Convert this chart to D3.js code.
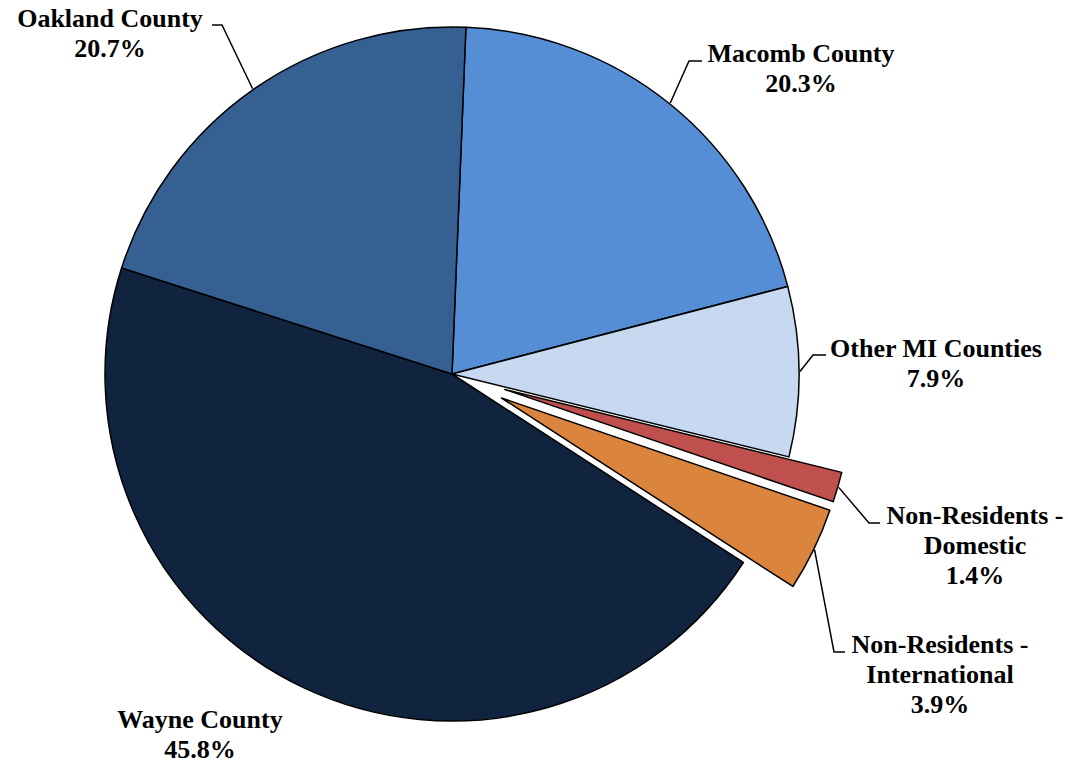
<!DOCTYPE html>
<html>
<head>
<meta charset="utf-8">
<script src="https://cdn.jsdelivr.net/npm/d3@7"></script>
<style>
  html, body { margin: 0; padding: 0; background: #fff; }
  svg { display: block; }
  text { font-family: "Liberation Serif", "Times New Roman", serif; font-weight: bold; font-size: 26px; fill: #000; }
</style>
</head>
<body>
<svg id="chart" width="1068" height="763"></svg>
<script>
// ---- data ----
const categories = ["Macomb County", "Other MI Counties", "Non-Residents - Domestic", "Non-Residents - International", "Wayne County", "Oakland County"];
const values = [20.3, 7.9, 1.4, 3.9, 45.8, 20.7];
const labelLines = [["Macomb County"], ["Other MI Counties"], ["Non-Residents -", "Domestic"], ["Non-Residents -", "International"], ["Wayne County"], ["Oakland County"]];
const exploded = [false, false, true, true, false, false];

// ---- styles / layout ----
const colors = ["#558ED5", "#C6D9F1", "#C0504D", "#DB843D", "#10243F", "#376092"];
const cx = 452, cy = 374, radius = 347, explodeDist = 55;
const startDeg = 2.3;
const lineH = 30;
const labelLayout = [
  { x: 801, y: 62,  leader: [[702, 61], [689, 61]] },
  { x: 936, y: 357, leader: [[826, 355], [813, 355]] },
  { x: 975, y: 524, leader: [[880, 523], [869, 523]] },
  { x: 940, y: 653, leader: [[845, 652], [834, 652]] },
  { x: 200, y: 728, leader: null },
  { x: 110, y: 27,  leader: [[212, 25], [222, 25]] }
];

const svg = d3.select("#chart");
const rad = d => d * Math.PI / 180;

const data = categories.map((c, i) => ({ cat: c, value: values[i], i }));
const pie = d3.pie().sort(null).value(d => d.value)
  .startAngle(rad(startDeg)).endAngle(rad(startDeg) + 2 * Math.PI);
const arcs = pie(data);
const arcGen = d3.arc().innerRadius(0).outerRadius(radius);

function offset(a) {
  if (!exploded[a.data.i]) return [0, 0];
  const m = (a.startAngle + a.endAngle) / 2;
  return [Math.sin(m) * explodeDist, -Math.cos(m) * explodeDist];
}

const g = svg.append("g").attr("transform", `translate(${cx},${cy})`);

// non-exploded first, exploded on top
const order = arcs.slice().sort((a, b) => exploded[a.data.i] - exploded[b.data.i]);
g.selectAll("path.slice").data(order).join("path")
  .attr("class", "slice")
  .attr("d", arcGen)
  .attr("transform", d => { const o = offset(d); return `translate(${o[0]},${o[1]})`; })
  .attr("fill", d => colors[d.data.i])
  .attr("stroke", "#000")
  .attr("stroke-width", 1.5)
  .attr("stroke-linejoin", "round");

// leader lines
arcs.forEach(a => {
  const L = labelLayout[a.data.i];
  if (!L.leader) return;
  const m = (a.startAngle + a.endAngle) / 2;
  const o = offset(a);
  const px = cx + o[0] + Math.sin(m) * (radius + 1);
  const py = cy + o[1] - Math.cos(m) * (radius + 1);
  const pts = [L.leader[0], L.leader[1], [px, py]];
  svg.append("path")
    .attr("d", d3.line()(pts))
    .attr("fill", "none")
    .attr("stroke", "#000")
    .attr("stroke-width", 1.5);
});

// labels
const fmt = d3.format(".1f");
arcs.forEach(a => {
  const i = a.data.i;
  const L = labelLayout[i];
  const lines = labelLines[i].concat([fmt(values[i]) + "%"]);
  const t = svg.append("text").attr("text-anchor", "middle");
  lines.forEach((s, k) => {
    t.append("tspan").attr("x", L.x).attr("y", L.y + k * lineH).text(s);
  });
});
</script>
</body>
</html>
